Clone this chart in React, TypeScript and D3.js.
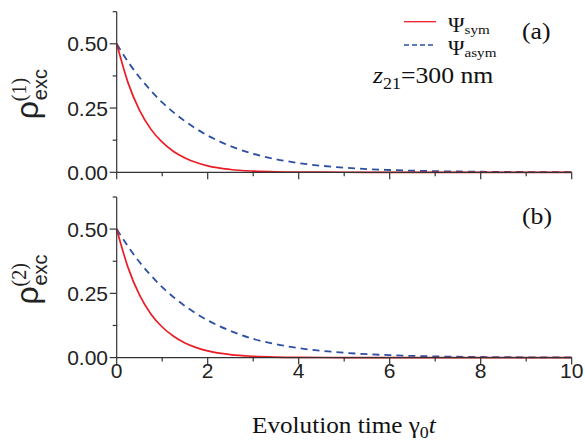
import React from "react";
import * as d3 from "d3";

// evolution time gamma_0 t (sample points)
const times = [0, 0.25, 0.5, 0.75, 1, 1.25, 1.5, 1.75, 2, 2.5, 3, 3.5, 4, 5, 6, 7, 8, 9, 10];

// panel (a): rho_exc^(1)
const symA = [0.5, 0.348, 0.242, 0.168, 0.117, 0.081, 0.056, 0.038, 0.025, 0.011, 0.0048, 0.002, 0.0009, 0.0002, 0.00004, 0, 0, 0, 0];
const asymA = [0.5, 0.43, 0.37, 0.318, 0.272, 0.233, 0.199, 0.169, 0.143, 0.102, 0.072, 0.051, 0.036, 0.018, 0.009, 0.0045, 0.0022, 0.0011, 0.0005];

// panel (b): rho_exc^(2)
const symB = [0.5, 0.35, 0.244, 0.17, 0.119, 0.083, 0.057, 0.039, 0.026, 0.0115, 0.005, 0.0021, 0.0009, 0.0002, 0.00004, 0, 0, 0, 0];
const asymB = [0.5, 0.432, 0.372, 0.32, 0.274, 0.235, 0.201, 0.171, 0.145, 0.104, 0.073, 0.052, 0.037, 0.019, 0.0095, 0.0047, 0.0023, 0.0012, 0.0006];

const xTickValues = [0, 1, 2, 3, 4, 5, 6, 7, 8, 9, 10];
const xTickLabels = [0, 2, 4, 6, 8, 10];
const yTickValues = [0, 0.125, 0.25, 0.375, 0.5, 0.625];
const yTickLabels = [0, 0.25, 0.5];

const RED = "#ec1c24";
const BLUE = "#2e4fa3";
const AXIS = "#333";
const SANS = "'Liberation Sans', Arial, Helvetica, sans-serif";
const SERIF = "'Liberation Serif', 'Times New Roman', serif";
const SX = 1.12; // the serif text in the figure is a little wide

const x = d3.scaleLinear().domain([0, 10]).range([116.7, 571.7]);

function Panel(props: {
  y0: number;
  sym: number[];
  asym: number[];
  showXLabels: boolean;
  sup: string;
  tag: string;
}) {
  const { y0, sym, asym, showXLabels, sup, tag } = props;
  const y = d3.scaleLinear().domain([0, 0.625]).range([y0, y0 - 0.625 * 257]);
  const line = d3
    .line<number>()
    .x((_, i) => x(times[i]))
    .y((d) => y(d))
    .curve(d3.curveMonotoneX);
  const yLab = y(0.3);

  return (
    <g>
      <path d={line(asym) || ""} fill="none" stroke={BLUE} strokeWidth={1.8} strokeDasharray="7,5" />
      <path d={line(sym) || ""} fill="none" stroke={RED} strokeWidth={1.7} />
      {/* axes */}
      <line x1={x(0)} x2={x(0)} y1={y(0.625)} y2={y(0)} stroke={AXIS} strokeWidth={1.2} />
      <line x1={x(0)} x2={x(10)} y1={y(0)} y2={y(0)} stroke={AXIS} strokeWidth={1.2} />
      {yTickValues.map((v) => {
        const major = yTickLabels.includes(v);
        return (
          <line key={"yt" + v} x1={x(0) - (major ? 7 : 4)} x2={x(0)} y1={y(v)} y2={y(v)} stroke={AXIS} strokeWidth={1.2} />
        );
      })}
      {yTickLabels.map((v) => (
        <text key={"yl" + v} x={108} y={y(v)} dy="0.36em" textAnchor="end" fontFamily={SANS} fontSize={21}
          fill="#222">
          {d3.format(".2f")(v)}
        </text>
      ))}
      {xTickValues.map((v) => {
        const major = v % 2 === 0;
        return (
          <line key={"xt" + v} x1={x(v)} x2={x(v)} y1={y(0)} y2={y(0) + (major ? 7 : 4)} stroke={AXIS} strokeWidth={1.2} />
        );
      })}
      {showXLabels &&
        xTickLabels.map((v) => (
          <text key={"xl" + v} x={x(v)} y={y(0) + 20} textAnchor="middle" fontFamily={SANS} fontSize={21} fill="#222">
            {v}
          </text>
        ))}
      {/* y label */}
      <g transform={`translate(38,${yLab + 24}) rotate(-90)`} fill="#222">
        <text x={0} y={0} fontFamily={SANS} fontSize={32}>
          ρ
        </text>
        <text x={19} y={9} fontFamily={SANS} fontSize={20}>
          exc
        </text>
        <text x={18} y={-12} fontFamily={SERIF} fontSize={20}>
          ({sup})
        </text>
      </g>
      <text transform={`translate(522,${y(0.5) - 5}) scale(${SX},1)`} fontFamily={SERIF} fontSize={23} fill="#111">
        {tag}
      </text>
    </g>
  );
}

export default function App() {
  return (
    <svg width={585} height={442} style={{ position: "absolute", left: 0, top: 0, background: "#fff" }}>
      <Panel y0={172.3} sym={symA} asym={asymA} showXLabels={false} sup="1" tag="(a)" />
      <Panel y0={357.6} sym={symB} asym={asymB} showXLabels={true} sup="2" tag="(b)" />
      {/* legend */}
      <line x1={404} x2={436} y1={21.7} y2={21.7} stroke={RED} strokeWidth={1.3} />
      <line x1={404} x2={436} y1={45} y2={45} stroke={BLUE} strokeWidth={1.3} strokeDasharray="5,3" />
      <text transform={`translate(448,32) scale(${SX},1)`} fontFamily={SERIF} fontSize={20} fill="#111">
        Ψ<tspan fontSize={13.5} dy={2}>sym</tspan>
      </text>
      <text transform={`translate(448,55) scale(${SX},1)`} fontFamily={SERIF} fontSize={20} fill="#111">
        Ψ<tspan fontSize={13.5} dy={2}>asym</tspan>
      </text>
      <text transform={`translate(373,83) scale(${SX},1)`} fontFamily={SERIF} fontSize={23} fill="#111">
        <tspan fontStyle="italic">z</tspan>
        <tspan fontSize={16} dy={6}>21</tspan>
        <tspan dy={-6}>=300 nm</tspan>
      </text>
      {/* x title */}
      <text transform={`translate(252,433) scale(${SX},1)`} fontFamily={SERIF} fontSize={22.5} fill="#111">
        Evolution time γ<tspan fontSize={16} dy={5}>0</tspan>
        <tspan dy={-5} fontStyle="italic">t</tspan>
      </text>
    </svg>
  );
}
